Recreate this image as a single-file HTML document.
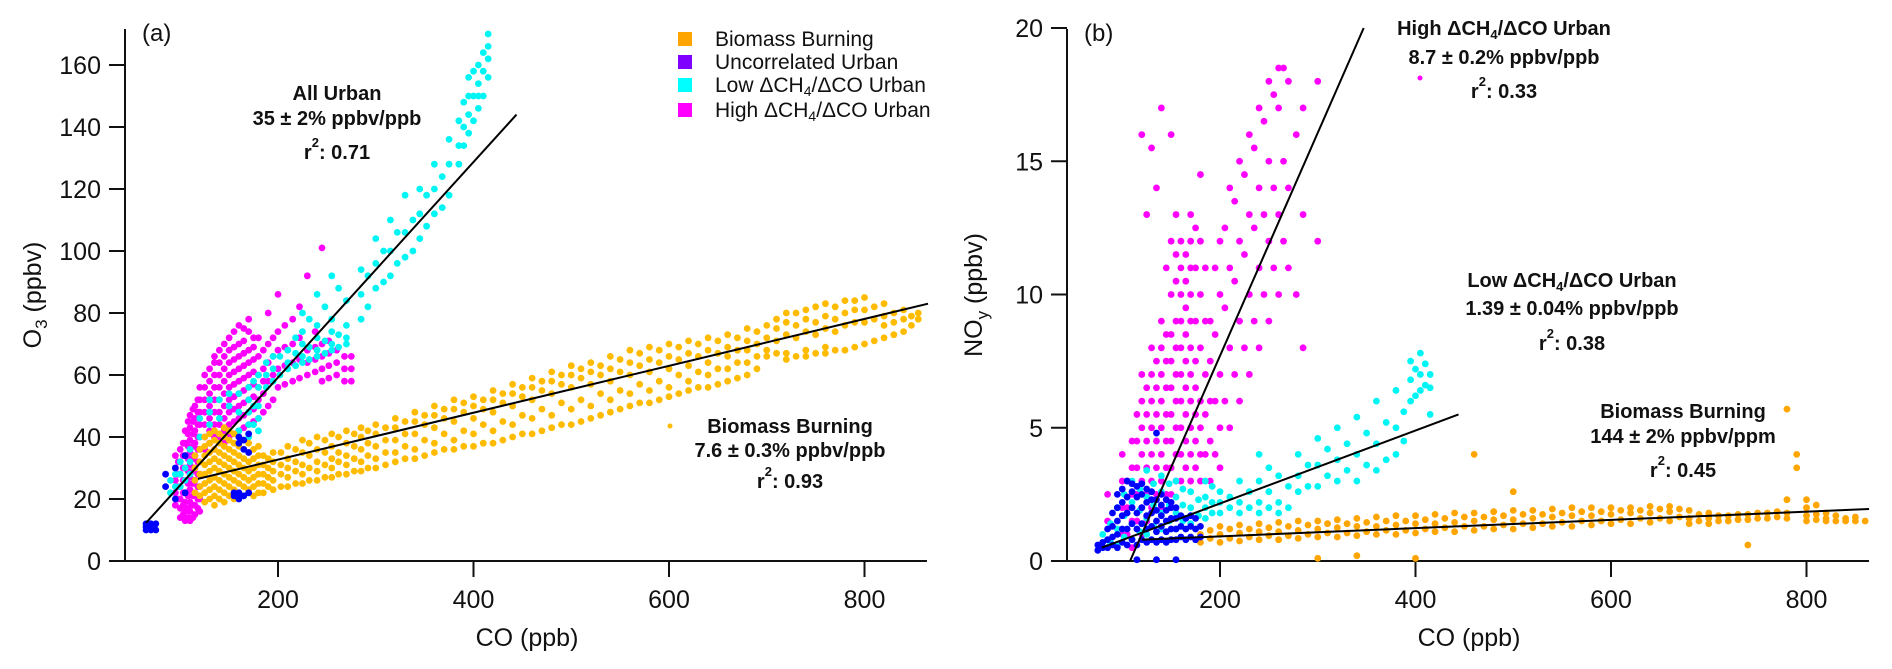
<!DOCTYPE html>
<html><head><meta charset="utf-8">
<style>
html,body{margin:0;padding:0;background:#fff;}
svg{display:block;font-family:"Liberation Sans",Arial,sans-serif;}
</style></head>
<body>
<svg id="chart" width="1892" height="669" viewBox="0 0 1892 669" xmlns="http://www.w3.org/2000/svg">
<g id="panelA"></g>
<g id="panelB"></g>
</svg>
<script>
// ---------- DATA (CO ppb -> list of observed values) ----------
const aBiomassCO=[115,125,135,145,155,165,175,185,195,210,225,240,255,270,285,300,320,340,360,380,400,420,440,460,480,500,520,540,560,580,600,620,640,660,680,700,720,740,760,780,800,820,840,855];
const aBiomassO3=[[22,26,30,34],[19,22,25,28,31,34,37,40],[18,21,24,27,30,33,36,39,42],[19,22,25,28,31,34,37,40,43],[20,23,26,29,32,35,38,41],[21,24,27,30,33,36,39],[21,24,27,30,33,36],[22,25,28,31,34],[23,26,29,32,35],[24,27,30,33,37],[25,28,31,35,39],[26,29,32,36,40],[27,30,33,37,41],[28,31,34,38,42],[29,32,36,40,43],[30,33,37,41,44],[32,35,39,43,46],[33,36,41,45,48],[35,38,43,47,50],[36,39,45,49,52],[37,41,46,50,53],[38,42,48,52,55],[40,44,50,54,57],[41,46,52,56,59],[43,47,54,58,61],[44,49,56,60,63],[46,50,57,61,64],[48,52,58,62,66],[50,54,60,64,68],[51,55,61,65,69],[53,56,62,66,70],[55,58,63,67,71],[56,60,64,68,72],[58,62,66,69,73],[60,64,68,71,75],[66,68,72,76],[65,67,73,77,80],[66,68,74,78,81],[67,69,75,79,83],[68,76,80,84],[70,77,81,85],[72,76,79,83],[74,78,81],[78,80]];
const aBiomassCO2=[120,130,140,150,160,170,180,190,203,218,232,248,262,278,292,310,330,350,370,390,410,430,450,470,490,510,530,550,570,590,610,630,650,670,690,710,730,750,770,790,810,830,848];
const aBiomassO32=[[21,24,28,32,36],[20,23,26,29,32,35,38,41],[20,23,26,29,32,35,38,41],[21,24,27,30,33,36,39,42],[22,25,28,31,34,37,40],[23,26,29,32,35,38],[22,25,28,31,34,37],[24,27,30,33],[24,28,31,35],[25,29,32,36],[26,30,34,38],[27,31,35,39],[28,32,35,40],[29,33,37,41],[30,34,38,42],[31,35,39,43],[33,37,41,45],[34,39,44,47],[36,41,46,49],[37,42,48,51],[38,44,49,52],[39,45,51,54],[41,47,53,56],[42,49,55,58],[44,51,57,60],[45,52,59,62],[47,54,60,63],[49,55,61,65],[51,57,63,67],[52,58,64,68],[54,60,65,69],[56,61,66,70],[57,62,67,71],[59,64,68,72],[62,66,70,74],[67,71,75,78],[66,72,76,80],[67,73,77,82],[68,74,78,82],[69,77,81,84],[71,78,82],[73,77,80],[76,79]];
const aHighCO=[95,100,105,110,115,120,130,140,150,160,170,180,190,200,215,230,245,260,275];
const aHighO3=[[18,22,26,30,34],[14,17,20,24,28,32,36],[13,16,19,22,26,30,34,38,42],[13,16,19,23,27,31,35,39,43,47],[15,18,22,26,30,34,38,42,46,50],[16,20,24,28,32,36,40,44,48,52,56],[38,42,46,50,54,58,62],[40,44,48,52,56,60,64,68],[40,44,48,52,56,60,64,68,72],[42,46,50,54,58,62,66,70,76],[44,48,52,56,60,64,68,74,78],[46,52,56,60,66,72],[50,58,64,70,80],[56,62,68,74,86],[58,64,70,78],[60,64,68,92],[58,62,66,70,101],[60,64,68],[58,62,66]];
const aHighCO2=[98,103,108,113,118,125,135,145,155,165,175,185,195,207,222,238,252,268];
const aHighO32=[[20,24,28,32],[15,18,22,26,30,34,38],[14,17,21,25,29,33,37,41,45],[14,18,21,25,29,33,37,41,45,49],[17,20,24,28,32,36,40,44,48,52],[36,40,44,48,52,56,60],[36,40,44,48,52,56,60,64,66],[38,42,46,50,54,58,62,66,70],[41,45,49,53,57,61,65,69,74],[43,47,51,55,59,63,67,71,75],[45,49,53,57,61,65,69,72],[48,54,58,62,68],[52,60,66,72],[57,63,69,76],[59,65,72,82],[61,65,69,74],[59,63,67,71],[58,62,66]];
const aLowCO=[90,100,110,130,150,170,180,195,210,225,240,255,270,285,300,315,330,345,360,375,385,395,405,415];
const aLowO3=[[22,26],[24,28,32],[28,32,36],[44,48,52],[50,54],[40,44,48,52,56],[42,46,50,56,60],[58,62,66],[62,64,68],[64,66,70,74,80],[66,68,72,76,86],[68,70,74,78,92],[70,72,76,84],[78,86,94],[88,96,104],[92,100,110],[98,106,118],[104,112,120],[112,120,128],[118,128,136],[128,134,142],[138,144,150,156],[146,150,154,160],[156,162,166,170]];
const aLowCO2=[95,105,120,140,160,175,188,202,218,232,248,262,292,308,322,338,352,368,390,400,410];
const aLowO32=[[24,28],[26,30],[40,46],[46,52],[42,48,54],[44,50,58],[56,60,64],[60,66],[63,67,72],[65,69,78],[67,71,82],[69,73,88],[82,92],[90,100],[96,106],[100,110],[108,118],[114,124],[134,140,148],[142,150,158],[150,158,164]];
const aUncCO=[65,70,75,85,95,105,155,160,165,170];
const aUncO3=[[10,11,12],[10,11,12],[10,12],[24,28],[20,30],[22,34],[21,22],[20,22,38,40],[21,36,39],[22,35,41]];

const bHighCO=[85,100,110,120,130,140,150,160,170,180,190,200,210,220,230,240,250,260,270,285,300];
const bHighNOy=[[1.5,2.5],[1,2,3,4],[0.5,1.5,2.5,3.5,4.5],[1,2,3,4,5,6,7,16],[2,3,4,5,6,7,8,15.5],[2,3,4,5,6,7,8,9,17],[2.5,3.5,4.5,5.5,6.5,7.5,8.5,10,12,16],[3,4,5,6,7,8,9,10,11,12],[3,4,5,6,7,8,9,10,11,12,13],[3,4,5,6,8,10,12,14.5],[3,4.5,6,7.5,9],[3.5,5,7,10,12],[5,8,11,14],[6,9,12,15],[7,10,13,16],[8,11,14,17],[9,12,15,18],[10,13,17,18.5],[11,14,18],[8,13,17],[12,18]];
const bHighCO2=[105,115,125,135,145,155,165,175,185,195,205,215,225,235,245,255,265,278];
const bHighNOy2=[[1,2,3],[1.5,2.5,3.5,4.5,5.5],[1.5,2.5,3.5,4.5,5.5,6.5,13],[2.5,3.5,4.5,5.5,6.5,7.5,14],[2.5,3.5,4.5,5.5,6.5,7.5,8.5,11],[3,4,5,6,7,8,9,10.5,11.5,13],[3.5,4.5,5.5,6.5,7.5,8.5,9.5,10.5,11.5],[3.5,4.5,5.5,6.5,7.5,9,11,12.5],[4,5.5,7,9,11],[4,6,8.5,11],[6,9.5,12.5],[7,10.5,13.5],[8,11.5,14.5],[9,12.5,15.5],[10,13,16.5],[11,14,17.5],[12,15,18.5],[10,16]];
const bLowCO=[80,95,110,125,140,155,170,185,200,220,240,260,280,300,320,340,360,380,395,405,415];
const bLowNOy=[[0.5,1],[0.6,1.2,2],[0.8,1.4,2.2,3],[1,1.6,2.4,3.4],[1.2,1.8,2.6,3.2],[1.2,1.8,2.4,3],[1.4,2,2.6],[1.6,2,2.4,3],[1.8,2.2,2.6],[1.8,2.2,3],[1.8,2.2,3,4],[1.8,2.2,3.2],[2.6,3.2,4],[2.8,3.6,4.6],[3,3.8,5],[3,4,5.4],[3.4,4.4,6],[4,5,6.4],[6,6.8,7.5],[6.4,7,7.8],[5.5,6.5,7]];
const bLowCO2=[88,102,118,132,148,162,178,192,210,230,250,270,290,310,330,350,370,388,400,410];
const bLowNOy2=[[0.7,1.4],[0.9,1.7,2.5],[1.1,1.9,2.7],[1.3,2.1,2.9],[1.5,2.1,2.9],[1.5,2.1,2.7],[1.7,2.3],[1.8,2.2,2.8],[2,2.4],[2,2.6],[2,2.6,3.5],[2,2.8],[2.8,3.6],[3.2,4.2],[3.4,4.4],[3.6,4.8],[3.8,5.2],[4.5,5.6],[6.2,7.2],[6.6,7.4]];
const bUncCO=[75,85,95,105,115,125,135,145,155,165,175];
const bUncNOy=[[0.4,0.6],[0.5,0.8,1.2],[0.5,1,1.5,2,2.5],[0.6,1.2,1.8,2.4,3],[0.6,1.2,1.8,2.4,2.8,0.05],[0.7,1.2,1.7,2.2,2.7],[0.7,1.1,1.5,1.9,2.3,4.8,0.05],[0.7,1.1,1.5,1.9,2.3],[0.8,1.2,1.6,2,0.05],[0.8,1.2,1.6],[0.8,1.2,1.6]];
const bUncCO2=[80,90,100,110,120,130,140,150,160,170,180];
const bUncNOy2=[[0.5,0.7],[0.6,0.9,1.3,1.8],[0.7,1.2,1.7,2.2,2.7],[0.8,1.4,2,2.6,2.9],[0.8,1.4,2,2.5,2.9],[0.8,1.3,1.8,2.3,2.6],[0.8,1.3,1.7,2.1,2.5],[0.8,1.2,1.6,2,2.2],[0.9,1.3,1.7],[0.9,1.3,1.7],[0.9,1.3]];
const bBiomassCO=[180,200,220,240,260,280,300,320,340,360,380,400,420,440,460,480,500,520,540,560,580,600,620,640,660,680,700,720,740,760,780,790,800,820,840,860];
const bBiomassNOy=[[0.7,1.0],[0.7,1.0,1.3],[0.75,1.05,1.35],[0.8,1.1,1.4],[0.8,1.1,1.45],[0.85,1.15,1.5],[0.9,1.2,1.5,0.1],[0.9,1.25,1.55],[0.95,1.3,1.6,0.2],[1.0,1.3,1.65],[1.0,1.35,1.7],[1.05,1.4,1.7,0.1],[1.1,1.4,1.75],[1.1,1.45,1.8],[1.15,1.5,1.8,4.0],[1.2,1.55,1.85],[1.2,1.55,1.9,2.6],[1.25,1.6,1.9],[1.3,1.65,1.95],[1.3,1.7,2.0],[1.35,1.7,2.0],[1.4,1.75,2.0],[1.4,1.8,2.0],[1.45,1.8,2.05],[1.5,1.85,2.05],[1.4,1.6,1.9],[1.4,1.6,1.8],[1.5,1.7],[1.55,1.75,0.6],[1.6,1.8],[1.6,1.8,2.3,5.7],[4.0,3.5],[1.5,1.7,2.0,2.3],[1.5,1.6,1.8],[1.5,1.6],[1.5]];
const bBiomassCO2=[190,210,230,250,270,290,310,330,350,370,390,410,430,450,470,490,510,530,550,570,590,610,630,650,670,690,710,730,750,770,810,830,850];
const bBiomassNOy2=[[0.85,1.15],[0.85,1.2],[0.9,1.2],[0.95,1.25],[0.95,1.3],[1.0,1.35],[1.05,1.4],[1.05,1.4],[1.1,1.45],[1.15,1.5],[1.15,1.5],[1.2,1.55],[1.25,1.6],[1.3,1.65],[1.3,1.65],[1.35,1.7],[1.4,1.75],[1.4,1.75],[1.45,1.8],[1.5,1.85],[1.5,1.85],[1.55,1.9],[1.6,1.9],[1.6,1.95],[1.65,1.95],[1.5,1.75],[1.5,1.7],[1.55,1.75],[1.6,1.8],[1.65,1.85],[1.55,1.75,2.1],[1.5,1.7],[1.5,1.65]];

// regression lines [co0,y0,co1,y1]
const aFitUrban=[65,12.3,444,144];
const aFitBiomass=[118,26.5,865,83];
const bFitHigh=[108,0,347,20];
const bFitLow=[79,0.5,444,5.5];
const bFitBiomass=[120,0.8,864,1.95];

const aYTicks=[0,20,40,60,80,100,120,140,160];
const bYTicks=[0,5,10,15,20];
const xTicks=[200,400,600,800];

// ---------- AXES ----------
const NS="http://www.w3.org/2000/svg";
const pxPerCO=0.9775;
const A={x0:125,x1:927,yBot:561,yTop:29,co0:82.5,ppu:3.1};
const B={x0:1067,x1:1869,yBot:561,yTop:29,co0:1024.5,ppu:26.65};
function xA(co){return A.co0+co*pxPerCO;}
function yA(v){return A.yBot-v*A.ppu;}
function xB(co){return B.co0+co*pxPerCO;}
function yB(v){return B.yBot-v*B.ppu;}

function el(tag,attrs,parent){const e=document.createElementNS(NS,tag);for(const k in attrs)e.setAttribute(k,attrs[k]);parent.appendChild(e);return e;}

function drawAxes(g,P,yTicks,xf,yf){
  const ax=el('line',{x1:P.x0,y1:P.yTop,x2:P.x0,y2:P.yBot+1,stroke:'#111','stroke-width':2},g);
  
  const bx=el('line',{x1:P.x0-16,y1:P.yBot,x2:P.x1,y2:P.yBot,stroke:'#111','stroke-width':2},g);
  
  yTicks.forEach(v=>{
    const y=yf(v);
    const t=el('line',{x1:P.x0-16,y1:y,x2:P.x0,y2:y,stroke:'#111','stroke-width':2},g);
    
    const l=el('text',{x:P.x0-24,y:y+9,'text-anchor':'end','font-size':25,fill:'#111'},g);
    l.textContent=v;
    
  });
  xTicks.forEach(v=>{
    const x=xf(v);
    const t=el('line',{x1:x,y1:P.yBot,x2:x,y2:P.yBot+16,stroke:'#111','stroke-width':2},g);
    
    const l=el('text',{x:x,y:608,'text-anchor':'middle','font-size':25,fill:'#111'},g);
    l.textContent=v;
    
  });
}

function drawSeries(g,cos,vals,color,xf,yf,P,name){
  const s=el('g',{},g);
  
  cos.forEach((co,i)=>{
    vals[i].forEach(v=>{
      const cy=Math.max(P.yTop,Math.min(P.yBot,yf(v)));
      const c=el('circle',{cx:xf(co),cy:cy,r:3.4,fill:color},s);
      
      
    });
  });
}
function drawFit(g,f,xf,yf,name){
  const l=el('line',{x1:xf(f[0]),y1:yf(f[1]),x2:xf(f[2]),y2:yf(f[3]),stroke:'#000','stroke-width':2},g);
  
}

const gA=document.getElementById('panelA');
const gB=document.getElementById('panelB');
drawAxes(gA,A,aYTicks,xA,yA);
drawAxes(gB,B,bYTicks,xB,yB);

drawSeries(gA,aHighCO,aHighO3,'#ff00ff',xA,yA,A,'high-urban-series');
drawSeries(gA,aHighCO2,aHighO32,'#ff00ff',xA,yA,A,'high-urban-series-extra');
drawSeries(gA,aLowCO,aLowO3,'#00f5f5',xA,yA,A,'low-urban-series');
drawSeries(gA,aLowCO2,aLowO32,'#00f5f5',xA,yA,A,'low-urban-series-extra');
drawSeries(gA,aBiomassCO,aBiomassO3,'#ffbb00',xA,yA,A,'biomass-series');
drawSeries(gA,aBiomassCO2,aBiomassO32,'#ffbb00',xA,yA,A,'biomass-series-extra');
drawSeries(gA,aUncCO,aUncO3,'#0000ff',xA,yA,A,'uncorrelated-series');
drawFit(gA,aFitUrban,xA,yA,'fit-all-urban');
drawFit(gA,aFitBiomass,xA,yA,'fit-biomass');

drawSeries(gB,bHighCO,bHighNOy,'#ff00ff',xB,yB,B,'high-urban-series');
drawSeries(gB,bHighCO2,bHighNOy2,'#ff00ff',xB,yB,B,'high-urban-series-extra');
drawSeries(gB,bBiomassCO,bBiomassNOy,'#ffa500',xB,yB,B,'biomass-series');
drawSeries(gB,bBiomassCO2,bBiomassNOy2,'#ffa500',xB,yB,B,'biomass-series-extra');
drawSeries(gB,bLowCO,bLowNOy,'#00f5f5',xB,yB,B,'low-urban-series');
drawSeries(gB,bLowCO2,bLowNOy2,'#00f5f5',xB,yB,B,'low-urban-series-extra');
drawSeries(gB,bUncCO,bUncNOy,'#0000ff',xB,yB,B,'uncorrelated-series');
drawSeries(gB,bUncCO2,bUncNOy2,'#0000ff',xB,yB,B,'uncorrelated-series-extra');
drawFit(gB,bFitHigh,xB,yB,'fit-high-urban');
drawFit(gB,bFitLow,xB,yB,'fit-low-urban');
drawFit(gB,bFitBiomass,xB,yB,'fit-biomass');
</script>

<!-- static text overlay -->
<svg style="position:absolute;left:0;top:0" width="1892" height="669">
 <g font-family="Liberation Sans, Arial, sans-serif" fill="#111">
  <text x="142" y="41" font-size="24">(a)</text>
  <text x="1084" y="41" font-size="24">(b)</text>

  <text x="527" y="646" font-size="25" text-anchor="middle">CO (ppb)</text>
  <text x="1469" y="646" font-size="25" text-anchor="middle">CO (ppb)</text>
  <text transform="translate(41,295) rotate(-90)" font-size="25" text-anchor="middle">O<tspan font-size="17" dy="6">3</tspan><tspan dy="-6"> (ppbv)</tspan></text>
  <text transform="translate(982,295) rotate(-90)" font-size="25" text-anchor="middle">NO<tspan font-size="17" dy="6">y</tspan><tspan dy="-6"> (ppbv)</tspan></text>

  <g font-size="21">
   <rect x="678" y="32" width="14" height="14" fill="#ffa500"/>
   <text x="715" y="46">Biomass Burning</text>
   <rect x="678" y="55" width="14" height="14" fill="#8000ff"/>
   <text x="715" y="69">Uncorrelated Urban</text>
   <rect x="678" y="78" width="14" height="14" fill="#00ffff"/>
   <text x="715" y="92">Low ΔCH<tspan font-size="14" dy="4">4</tspan><tspan dy="-4">/ΔCO Urban</tspan></text>
   <rect x="678" y="103" width="14" height="14" fill="#ff00ff"/>
   <text x="715" y="117">High ΔCH<tspan font-size="14" dy="4">4</tspan><tspan dy="-4">/ΔCO Urban</tspan></text>
  </g>

  <g font-weight="bold" font-size="20" text-anchor="middle">
   <text x="337" y="100">All Urban</text>
   <text x="337" y="125">35 ± 2% ppbv/ppb</text>
   <text x="337" y="159">r<tspan font-size="13" dy="-12">2</tspan><tspan dy="12">: 0.71</tspan></text>
  </g>
  <g font-weight="bold" font-size="20" text-anchor="middle">
   <text x="790" y="433">Biomass Burning</text>
   <text x="790" y="457">7.6 ± 0.3% ppbv/ppb</text>
   <text x="790" y="488">r<tspan font-size="13" dy="-12">2</tspan><tspan dy="12">: 0.93</tspan></text>
  </g>
  <circle cx="670" cy="426" r="2.5" fill="#ffbb00"/>
  <g font-weight="bold" font-size="20" text-anchor="middle">
   <text x="1504" y="35">High ΔCH<tspan font-size="13" dy="4">4</tspan><tspan dy="-4">/ΔCO Urban</tspan></text>
   <text x="1504" y="64">8.7 ± 0.2% ppbv/ppb</text>
   <text x="1504" y="98">r<tspan font-size="13" dy="-12">2</tspan><tspan dy="12">: 0.33</tspan></text>
  </g>
  <circle cx="1420" cy="78" r="2.5" fill="#ff00ff"/>
  <g font-weight="bold" font-size="20" text-anchor="middle">
   <text x="1572" y="287">Low ΔCH<tspan font-size="13" dy="4">4</tspan><tspan dy="-4">/ΔCO Urban</tspan></text>
   <text x="1572" y="315">1.39 ± 0.04% ppbv/ppb</text>
   <text x="1572" y="350">r<tspan font-size="13" dy="-12">2</tspan><tspan dy="12">: 0.38</tspan></text>
  </g>
  <g font-weight="bold" font-size="20" text-anchor="middle">
   <text x="1683" y="418">Biomass Burning</text>
   <text x="1683" y="443">144 ± 2% ppbv/ppm</text>
   <text x="1683" y="477">r<tspan font-size="13" dy="-12">2</tspan><tspan dy="12">: 0.45</tspan></text>
  </g>
 </g>
</svg>
</body></html>
